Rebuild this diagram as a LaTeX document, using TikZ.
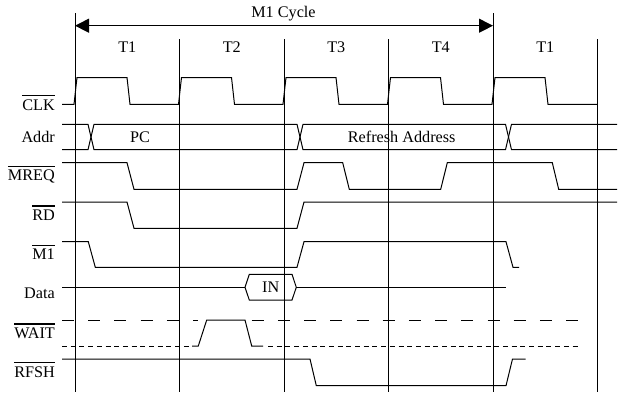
\documentclass[tikz,border=0pt]{standalone}
\usepackage{fontspec}
\setmainfont{Liberation Serif}
\usetikzlibrary{arrows.meta}
\begin{document}
\begin{tikzpicture}[x=1pt,y=-1pt,
  sig/.style={line width=1pt, line join=miter},
  gridline/.style={line width=1pt},
  lbl/.style={anchor=base east, inner sep=0pt, font=\fontsize{16.2}{19}\selectfont},
  txt/.style={inner sep=0pt, font=\fontsize{16.2}{19}\selectfont},
  ovl/.style={line width=1.4pt},
  longdash/.style={sig, dash pattern=on 12pt off 14.2pt},
  shortdash/.style={sig, dash pattern=on 5pt off 3.7pt}]
\useasboundingbox (0,0) rectangle (619,392);

% title and cycle arrow
\node[txt] (title) at (283.5,14) {M1 Cycle};
\coordinate (cs) at (75,25.7);
\coordinate (ce) at (493,25.7);
\draw[line width=1pt, {Triangle[length=14pt,width=14pt]}-{Triangle[length=14pt,width=14pt]}] (cs) -- (ce);

% T labels
\node[txt] (t1) at (127.25,47) {T1};
\node[txt] (t2) at (231.75,47) {T2};
\node[txt] (t3) at (336.25,47) {T3};
\node[txt] (t4) at (440.75,47) {T4};
\node[txt] (t5) at (545.25,47) {T1};

% signal labels
\node[lbl] (lclk) at (55,110) {CLK};
\node[lbl] (laddr) at (55,142) {Addr};
\node[lbl] (lmreq) at (55,180.5) {MREQ};
\node[lbl] (lrd) at (55,220) {RD};
\node[lbl] (lmone) at (55,259.5) {M1};
\node[lbl] (ldata) at (55,298) {Data};
\node[lbl] (lwait) at (55,338) {WAIT};
\node[lbl] (lrfsh) at (55,377) {RFSH};
\foreach \n in {lclk,lmreq,lrd,lmone,lwait,lrfsh}
  \draw[ovl] ([yshift=3.3pt]\n.north west) -- ([yshift=3.3pt]\n.north east);

% CLK
\draw[sig] (62,104.3) -- (74,104.3) -- (77,77.5) -- (127,77.5) -- (130,104.3)
  -- (178.5,104.3) -- (181.5,77.5) -- (231.5,77.5) -- (234.5,104.3)
  -- (283,104.3) -- (286,77.5) -- (336,77.5) -- (339,104.3)
  -- (387.5,104.3) -- (390.5,77.5) -- (440.5,77.5) -- (443.5,104.3)
  -- (492,104.3) -- (495,77.5) -- (545,77.5) -- (548,104.3) -- (597.5,104.3);

% Addr bus
\draw[sig] (62,124.3) -- (88,124.3) -- (94,149.7) -- (297,149.7) -- (303,124.3)
  -- (505.5,124.3) -- (511.5,149.7) -- (617,149.7);
\draw[sig] (62,149.7) -- (88,149.7) -- (94,124.3) -- (297,124.3) -- (303,149.7)
  -- (505.5,149.7) -- (511.5,124.3) -- (617,124.3);
\node[txt] (pc) at (140,137) {PC};
\node[txt] (raddr) at (401.7,137) {Refresh Address};

% MREQ
\draw[sig] (62,162.7) -- (127,162.7) -- (134,189.3) -- (297,189.3) -- (304,162.7)
  -- (342.7,162.7) -- (349.3,189.3) -- (440.7,189.3) -- (447.3,162.7)
  -- (552.3,162.7) -- (558.7,189.3) -- (617,189.3);

% RD
\draw[sig] (62,202) -- (127,202) -- (134,228.3) -- (297,228.3) -- (304,202) -- (617,202);

% M1
\draw[sig] (62,241.7) -- (88.3,241.7) -- (95.3,267.3) -- (297,267.3) -- (304,241.7)
  -- (506,241.7) -- (513,267.3) -- (519,267.3);

% Data
\draw[sig] (62,287.3) -- (245,287.3);
\draw[sig] (245,287.3) -- (249.3,274.3) -- (292,274.3) -- (296.3,287.3)
  -- (292,300) -- (249.3,300) -- cycle;
\draw[sig] (296.3,287.3) -- (506,287.3);
\node[txt] (din) at (270.7,287.3) {IN};

% WAIT
\draw[longdash] (62,320) -- (198,320);
\draw[longdash] (251.7,320) -- (578,320);
\draw[shortdash] (62,346) -- (192,346);
\draw[sig] (192,346) -- (198.3,346) -- (206.7,320) -- (245,320) -- (251.7,346) -- (263,346);
\draw[shortdash] (268,346) -- (578,346);

% RFSH
\draw[sig] (62,359) -- (310,359) -- (316.3,385.7) -- (506,385.7) -- (512.5,359) -- (525.7,359);

% vertical time lines
\draw[gridline] (75,13) -- (75,392);
\draw[gridline] (179.5,39) -- (179.5,392);
\draw[gridline] (284,39) -- (284,392);
\draw[gridline] (388.5,39) -- (388.5,392);
\draw[gridline] (493,13) -- (493,392);
\draw[gridline] (597.5,39) -- (597.5,392);
\end{tikzpicture}
\end{document}
